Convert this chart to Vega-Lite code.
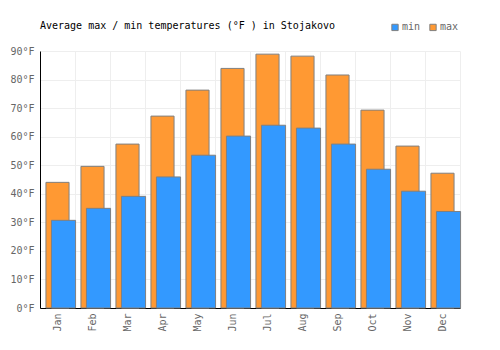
{
  "$schema": "https://vega.github.io/schema/vega-lite/v6.json",
  "width": 420,
  "height": 257,
  "autosize": "none",
  "padding": {"left": 40, "top": 51, "right": 40, "bottom": 42},
  "background": "white",
  "config": {
    "view": {"stroke": null},
    "font": "DejaVu Sans Mono"
  },
  "title": {
    "text": "Average max / min temperatures (°F ) in Stojakovo",
    "anchor": "start",
    "frame": "group",
    "font": "DejaVu Sans Mono",
    "fontSize": 10,
    "fontWeight": "normal",
    "color": "#000000",
    "offset": -9
  },
  "data": {
    "values": [
      {"month": "Jan", "type": "max", "temp": 44.0}, {"month": "Jan", "type": "min", "temp": 30.7},
      {"month": "Feb", "type": "max", "temp": 49.6}, {"month": "Feb", "type": "min", "temp": 34.9},
      {"month": "Mar", "type": "max", "temp": 57.4}, {"month": "Mar", "type": "min", "temp": 39.1},
      {"month": "Apr", "type": "max", "temp": 67.2}, {"month": "Apr", "type": "min", "temp": 45.9},
      {"month": "May", "type": "max", "temp": 76.3}, {"month": "May", "type": "min", "temp": 53.5},
      {"month": "Jun", "type": "max", "temp": 83.9}, {"month": "Jun", "type": "min", "temp": 60.2},
      {"month": "Jul", "type": "max", "temp": 88.9}, {"month": "Jul", "type": "min", "temp": 64.0},
      {"month": "Aug", "type": "max", "temp": 88.2}, {"month": "Aug", "type": "min", "temp": 63.0},
      {"month": "Sep", "type": "max", "temp": 81.6}, {"month": "Sep", "type": "min", "temp": 57.4},
      {"month": "Oct", "type": "max", "temp": 69.3}, {"month": "Oct", "type": "min", "temp": 48.6},
      {"month": "Nov", "type": "max", "temp": 56.7}, {"month": "Nov", "type": "min", "temp": 40.9},
      {"month": "Dec", "type": "max", "temp": 47.2}, {"month": "Dec", "type": "min", "temp": 33.8}
    ]
  },
  "encoding": {
    "x": {
      "field": "month",
      "type": "ordinal",
      "sort": ["Jan","Feb","Mar","Apr","May","Jun","Jul","Aug","Sep","Oct","Nov","Dec"],
      "scale": {"paddingInner": 0, "paddingOuter": 0},
      "axis": {
        "title": null,
        "labelAngle": -90,
        "labelFont": "DejaVu Sans Mono",
        "labelFontSize": 10,
        "labelColor": "#666666",
        "labelPadding": 5,
        "ticks": false,
        "tickBand": "extent",
        "grid": true,
        "gridColor": "#eeeeee",
        "domainColor": "#000000",
        "domainWidth": 1
      }
    },
    "y": {
      "field": "temp",
      "type": "quantitative",
      "scale": {"domain": [0, 90], "nice": false},
      "axis": {
        "title": null,
        "values": [0,10,20,30,40,50,60,70,80,90],
        "labelExpr": "datum.value + '°F'",
        "labelFont": "DejaVu Sans Mono",
        "labelFontSize": 10,
        "labelColor": "#666666",
        "labelPadding": 6,
        "ticks": false,
        "grid": true,
        "gridColor": "#eeeeee",
        "domainColor": "#000000",
        "domainWidth": 1
      }
    },
    "color": {
      "field": "type",
      "type": "nominal",
      "scale": {"domain": ["min", "max"], "range": ["#3399ff", "#ff9933"]},
      "legend": {
        "title": null,
        "orient": "none",
        "direction": "horizontal",
        "legendX": 350,
        "legendY": -29,
        "symbolType": "square",
        "symbolSize": 40,
        "symbolStrokeColor": "#808080",
        "symbolStrokeWidth": 1,
        "symbolOpacity": 1,
        "labelFont": "DejaVu Sans Mono",
        "labelFontSize": 10,
        "labelColor": "#666666",
        "labelOffset": 2,
        "columnPadding": 6
      }
    }
  },
  "layer": [
    {
      "transform": [{"filter": "datum.type === 'max'"}],
      "mark": {"type": "bar", "width": {"band": 0.66}, "stroke": "#808080", "strokeWidth": 1, "opacity": 1}
    },
    {
      "transform": [{"filter": "datum.type === 'min'"}],
      "mark": {"type": "bar", "width": {"band": 0.69}, "xOffset": 6, "stroke": "#808080", "strokeWidth": 1, "opacity": 1}
    }
  ]
}
